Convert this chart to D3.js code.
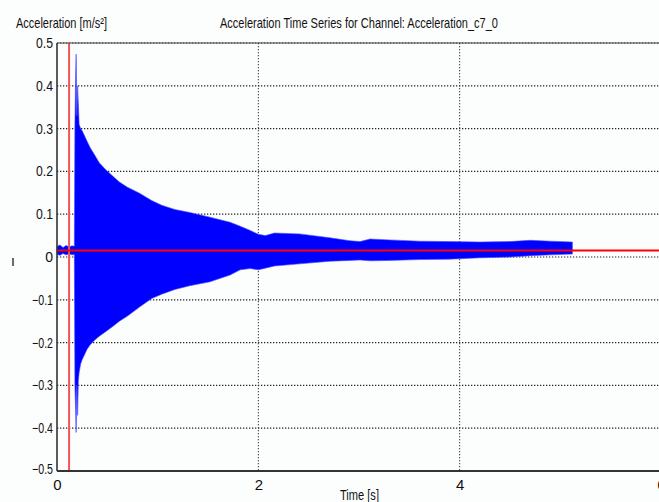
<!DOCTYPE html>
<html>
<head>
<meta charset="utf-8">
<script src="https://cdn.jsdelivr.net/npm/d3@7"></script>
<style>
  body { margin: 0; background: #fcfdfd; }
  text { font-family: "Liberation Sans", Arial, sans-serif; fill: #111; }
</style>
</head>
<body>
<div id="chart"></div>
<script>
const W = 659, H = 502;
const margin = { top: 43, right: -2, bottom: 31, left: 57 };
const width = W - margin.left - margin.right;
const height = H - margin.top - margin.bottom;

// tick values
const xTicks = [0, 2, 4, 6];
const yTicks = [-0.5, -0.4, -0.3, -0.2, -0.1, 0, 0.1, 0.2, 0.3, 0.4, 0.5];

// signal envelope: time [s], upper and lower peak [m/s²]
const sampleTime = [0, 0.03, 0.06, 0.09, 0.12, 0.15, 0.172, 0.178, 0.185, 0.19, 0.197, 0.205, 0.212, 0.22, 0.235,
  0.25, 0.27, 0.3, 0.33, 0.37, 0.42, 0.48, 0.55, 0.62, 0.7, 0.82, 0.94, 1.04, 1.17, 1.32, 1.52, 1.72, 1.82,
  1.92, 2.0, 2.07, 2.16, 2.41, 2.71, 2.91, 3.01, 3.11, 3.3, 3.6, 3.9, 4.2, 4.5, 4.7, 4.9, 5.12];
const peakHigh = [0.025, 0.028, 0.022, 0.027, 0.024, 0.026, 0.025, 0.31, 0.42, 0.474, 0.33, 0.4, 0.36, 0.31, 0.3,
  0.295, 0.285, 0.27, 0.255, 0.24, 0.22, 0.205, 0.19, 0.175, 0.163, 0.149, 0.132, 0.121, 0.111, 0.104, 0.093, 0.081, 0.072,
  0.062, 0.053, 0.05, 0.056, 0.054, 0.045, 0.038, 0.036, 0.042, 0.04, 0.037, 0.036, 0.035, 0.036, 0.039, 0.037, 0.035];
const peakLow = [0.006, 0.004, 0.008, 0.005, 0.007, 0.005, 0.006, -0.3, -0.36, -0.41, -0.3, -0.37, -0.29, -0.27, -0.25,
  -0.24, -0.23, -0.215, -0.205, -0.195, -0.185, -0.175, -0.163, -0.15, -0.138, -0.117, -0.097, -0.087, -0.076, -0.067, -0.058, -0.042, -0.03,
  -0.027, -0.03, -0.026, -0.021, -0.016, -0.01, -0.008, -0.007, -0.009, -0.008, -0.006, -0.005, -0.002, 0.0, 0.003, 0.005, 0.007];

const triggerTime = 0.12;
const meanLevel = 0.015;

const signal = sampleTime.map((t, i) => ({ t: t, hi: peakHigh[i], lo: peakLow[i] }));

const svg = d3.select("#chart")
  .append("svg")
  .attr("width", W)
  .attr("height", H)
  .style("display", "block");

svg.append("rect").attr("width", W).attr("height", H).attr("fill", "#fcfdfd");

const g = svg.append("g")
  .attr("transform", `translate(${margin.left},${margin.top})`);

const x = d3.scaleLinear().domain([0, 6]).range([0, width]);
const y = d3.scaleLinear().domain([-0.5, 0.5]).range([height, 0]);

// dotted grid
g.selectAll(".ygrid")
  .data(yTicks)
  .enter().append("line")
  .attr("x1", 0).attr("x2", width)
  .attr("y1", d => y(d)).attr("y2", d => y(d))
  .attr("stroke", "#222")
  .attr("stroke-width", 1.2)
  .attr("stroke-dasharray", "1.3,1.7");

g.selectAll(".xgrid")
  .data(xTicks.filter(d => d > 0))
  .enter().append("line")
  .attr("x1", d => x(d)).attr("x2", d => x(d))
  .attr("y1", 0).attr("y2", height)
  .attr("stroke", "#333")
  .attr("stroke-width", 1)
  .attr("stroke-dasharray", "1.3,1.7");

// signal band
const band = d3.area()
  .x(d => x(d.t))
  .y0(d => y(d.lo))
  .y1(d => y(d.hi));

g.append("path")
  .datum(signal)
  .attr("fill", "#0000ff")
  .attr("stroke", "#4a4aff")
  .attr("stroke-width", 1)
  .attr("stroke-opacity", 0.6)
  .attr("d", band);

// trigger marker and mean level
g.append("line")
  .attr("x1", x(triggerTime)).attr("x2", x(triggerTime))
  .attr("y1", 0).attr("y2", height)
  .attr("stroke", "#f25555")
  .attr("stroke-width", 2);

g.append("line")
  .attr("x1", 0).attr("x2", width)
  .attr("y1", y(meanLevel)).attr("y2", y(meanLevel))
  .attr("stroke", "#ff0000")
  .attr("stroke-width", 2);

// frame
g.append("line").attr("x1", 0).attr("x2", width).attr("y1", 0).attr("y2", 0)
  .attr("stroke", "#444").attr("stroke-width", 1);
g.append("line").attr("x1", 0).attr("x2", 0).attr("y1", 0).attr("y2", height)
  .attr("stroke", "#333").attr("stroke-width", 1.6);
g.append("line").attr("x1", 0).attr("x2", width).attr("y1", height).attr("y2", height)
  .attr("stroke", "#333").attr("stroke-width", 2);

// axes labels (narrow, like the original)
const yAxis = g.append("g")
  .call(d3.axisLeft(y).tickValues(yTicks).tickSize(0).tickPadding(4)
    .tickFormat(d => d === 0 ? "0" : d3.format(".1f")(d)));
yAxis.select(".domain").remove();
yAxis.selectAll("text")
  .style("font-size", "14px")
  .attr("fill", "#111")
  .attr("lengthAdjust", "spacingAndGlyphs")
  .attr("textLength", d => d === 0 ? null : (d < 0 ? 21 : 17));
yAxis.selectAll(".tick").filter(d => d === -0.5).select("text").attr("dy", "0.2em");

const xAxis = g.append("g")
  .attr("transform", `translate(0,${height})`)
  .call(d3.axisBottom(x).tickValues(xTicks).tickSize(0).tickPadding(8).tickFormat(d3.format("d")));
xAxis.select(".domain").remove();
xAxis.selectAll("text").style("font-size", "15px").attr("fill", "#111");

svg.append("text")
  .attr("x", 16).attr("y", 28)
  .attr("textLength", 91)
  .attr("lengthAdjust", "spacingAndGlyphs")
  .style("font-size", "15px")
  .text("Acceleration [m/s²]");

svg.append("text")
  .attr("x", 359).attr("y", 28)
  .attr("text-anchor", "middle")
  .attr("textLength", 278)
  .attr("lengthAdjust", "spacingAndGlyphs")
  .style("font-size", "15px")
  .text("Acceleration Time Series for Channel: Acceleration_c7_0");

svg.append("text")
  .attr("x", 340).attr("y", 500)
  .attr("textLength", 39)
  .attr("lengthAdjust", "spacingAndGlyphs")
  .style("font-size", "14px")
  .text("Time [s]");

svg.append("text")
  .attr("x", 11).attr("y", 266)
  .style("font-size", "14px")
  .text("ı");
</script>
</body>
</html>
